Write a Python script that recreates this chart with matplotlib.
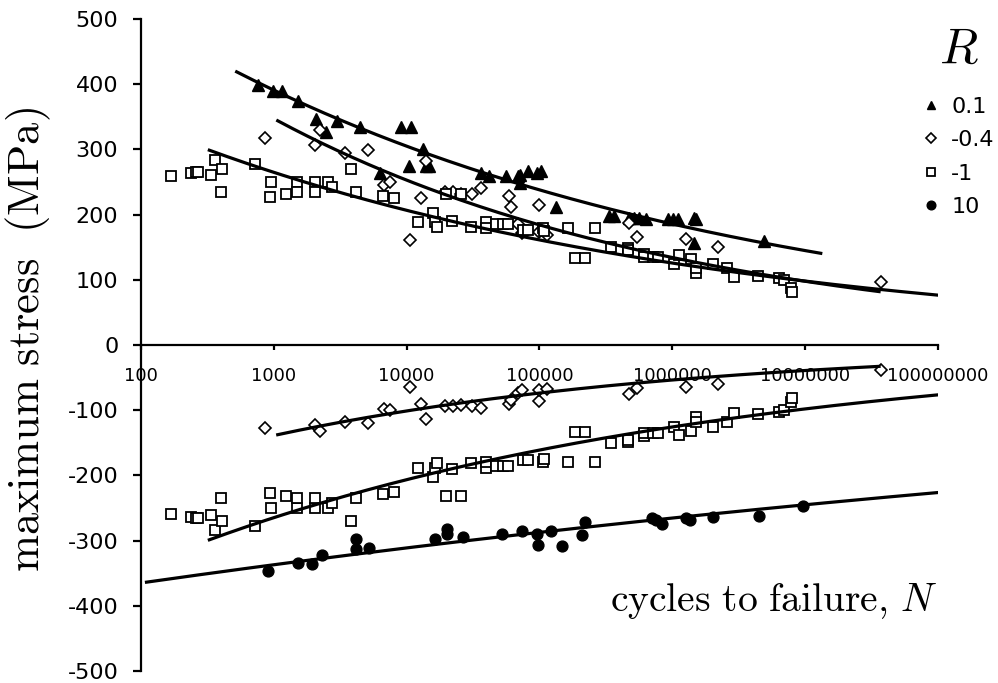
import numpy as np
import matplotlib.pyplot as plt
from matplotlib.ticker import FixedLocator, FuncFormatter, NullLocator

plt.rcParams['font.family'] = 'DejaVu Sans'
plt.rcParams['mathtext.fontset'] = 'cm'
plt.rcParams['axes.unicode_minus'] = False

# %%
# fatigue data: cycles to failure N and maximum stress (MPa) for each stress ratio R
n_r01 = [760, 990, 1160, 1520, 2090, 2450, 3000, 4440, 6270, 9120, 10800, 10500,
         13200, 14100, 14800, 36000, 41600, 56200, 69200, 71600, 70800, 81700,
         95500, 103000, 134000, 336000, 366000, 475000, 518000, 565000, 634000,
         923000, 1007000, 1096000, 1462000, 1514000, 1462000, 4920000]
s_r01 = [399, 389, 389, 375, 346, 326, 343, 335, 264, 335, 335, 274,
         300, 275, 275, 264, 259, 259, 259, 260, 249, 267,
         264, 267, 212, 198, 198, 195, 195, 195, 193,
         193, 193, 193, 195, 194, 157, 159]

n_rm04 = [855, 2056, 2218, 3459, 5117, 6714, 7447, 10540, 12740, 14060, 19320,
          22280, 25760, 31190, 35980, 59430, 60530, 68710, 74130, 100000, 100000,
          114300, 469900, 542000, 1273500, 2218000, 37070000]
s_rm04 = [318, 306, 330, 295, 299, 245, 250, 161, 226, 282, 234,
          234, 231, 232, 241, 228, 212, 185, 172, 215, 173,
          168, 187, 166, 162, 151, 97]

n_rm1 = [167, 237, 259, 270, 334, 360, 405, 397, 719, 948, 933, 1245, 1496, 1496,
         2056, 2056, 2559, 2742, 3837, 4188, 6637, 7980, 12160, 15780, 16260,
         17020, 19860, 21930, 25470, 30620, 39260, 39810, 47210, 52970, 57810,
         74990, 81660, 105900, 107600, 163300, 263600, 186600, 221800, 345900,
         461300, 461300, 608100, 615200, 711200, 774500, 1035000, 1117000,
         1380000, 1507000, 1507000, 2009000, 2576000, 2891000, 4436000, 6383000,
         6871000, 7798000, 7943000]
s_rm1 = [259, 264, 265, 265, 260, 284, 270, 234, 278, 250, 227, 231, 250, 234,
         250, 234, 250, 242, 270, 234, 228, 226, 188, 202, 188,
         181, 232, 190, 232, 181, 189, 180, 185, 185, 185,
         177, 177, 180, 175, 180, 180, 134, 134, 150,
         149, 145, 140, 135, 135, 135, 125, 138,
         132, 110, 118, 125, 118, 104, 106, 103,
         99, 88, 82]

n_r10 = [906, 1524, 1941, 2286, 4140, 4140, 5176, 16260, 20230, 20230, 26550,
         52120, 74130, 96160, 97270, 122500, 148300, 208000, 220800, 699800,
         753400, 835600, 1268000, 1358000, 2009000, 4508000, 9550000]
s_r10 = [-347, -334, -336, -322, -297, -313, -312, -297, -282, -290, -295,
         -290, -286, -290, -306, -286, -308, -292, -272, -266,
         -268, -275, -266, -269, -264, -262, -247]

ratios = [0.1, -0.4, -1, 10]
labels = ['0.1', '-0.4', '-1', '10']

# power-law trendlines |S| = a * N**b and the cycle range each one covers
trend_a = [823, 898, 558, 428]
trend_b = [-0.1078, -0.1376, -0.1079, -0.0346]
trend_from = [525, 1070, 327, 110]
trend_to = [1.31e7, 3.6e7, 1.05e8, 1.05e8]
# sign applied to each trendline: max stress, and min stress = R * max
trend_k = [[1], [1, ratios[1]], [1, ratios[2]], [-1]]

# %%
fig = plt.figure(figsize=(9.98, 6.83), dpi=100)
ax = fig.add_axes([141 / 998, 12 / 683, 797 / 998, 652 / 683])

mk_tri = dict(marker='^', ms=8, color='black', ls='none', zorder=3)
mk_dia = dict(marker='D', ms=6, mfc='white', mec='black', mew=1.2, ls='none', zorder=3)
mk_sq = dict(marker='s', ms=7.5, mfc='white', mec='black', mew=1.3, ls='none', zorder=3)
mk_dot = dict(marker='o', ms=7.8, color='black', ls='none', zorder=3)

h1, = ax.plot(n_r01, s_r01, label=labels[0], **mk_tri)
h2, = ax.plot(n_rm04, s_rm04, label=labels[1], **mk_dia)
ax.plot(n_rm04, np.array(s_rm04) * ratios[1], **mk_dia)
h3, = ax.plot(n_rm1, s_rm1, label=labels[2], **mk_sq)
ax.plot(n_rm1, np.array(s_rm1) * ratios[2], **mk_sq)
h4, = ax.plot(n_r10, s_r10, label=labels[3], **mk_dot)

for a, b, lo, hi, ks in zip(trend_a, trend_b, trend_from, trend_to, trend_k):
    xx = np.logspace(np.log10(lo), np.log10(hi), 200)
    for k in ks:
        ax.plot(xx, k * a * xx ** b, color='black', lw=2.3, zorder=4)

ax.set_xscale('log')
ax.set_xlim(100, 1e8)
ax.set_ylim(-500, 500)

ax.xaxis.set_major_locator(FixedLocator([10 ** k for k in range(2, 9)]))
ax.xaxis.set_major_formatter(FuncFormatter(lambda v, _: f'{v:.0f}'))
ax.xaxis.set_minor_locator(NullLocator())
ax.set_yticks(range(-500, 501, 100))

for side in ['top', 'right']:
    ax.spines[side].set_visible(False)
ax.spines['bottom'].set_position(('data', 0))
ax.spines['bottom'].set_linewidth(1.6)
ax.spines['left'].set_linewidth(1.6)

ax.tick_params(axis='x', direction='out', length=3.6, width=1.6, pad=12.5, labelsize=13)
ax.tick_params(axis='y', direction='out', length=5.8, width=1.6, pad=10.5, labelsize=16)

fig.text(28 / 998, 1 - 340 / 683, r'$\mathrm{maximum\ stress\ \ (MPa)}$',
         rotation=90, ha='center', va='center', fontsize=32)

ax.text(1.0, 0.107, r'$\mathrm{cycles\ to\ failure,}\,N$', transform=ax.transAxes,
        ha='right', va='center', fontsize=28.5)

leg = ax.legend(handles=[h1, h2, h3, h4], title='$R$', title_fontsize=36,
                loc='upper left', bbox_to_anchor=(918 / 998, 1 - 20 / 683),
                bbox_transform=fig.transFigure, frameon=False, fontsize=16,
                markerscale=0.8, handlelength=0.8, handletextpad=0.5,
                labelspacing=0.6, borderpad=0.2, borderaxespad=0)
# more room between the R title and the entries
leg._legend_box.sep = 17.6

plt.savefig('out.png', dpi=100)
